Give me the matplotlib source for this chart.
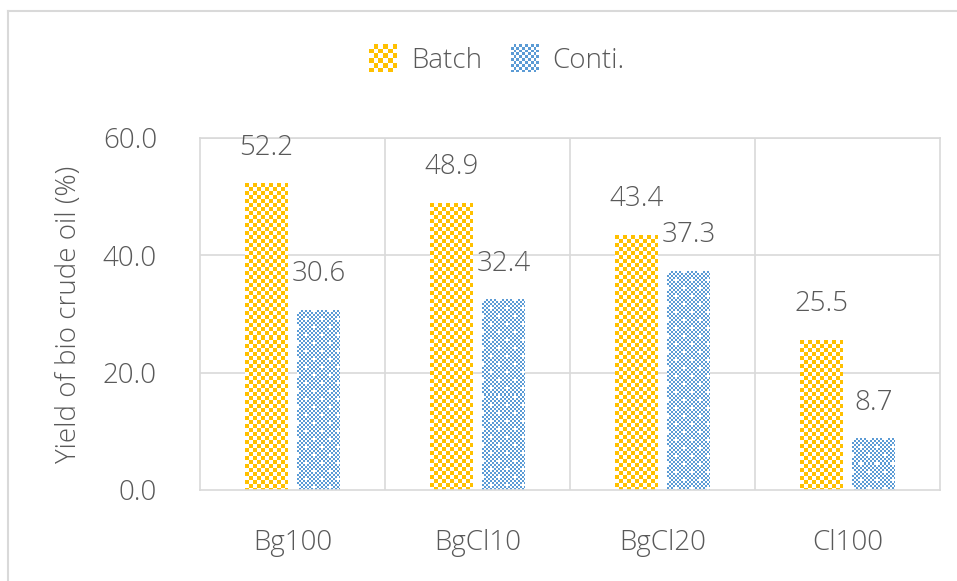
import numpy as np
import matplotlib
matplotlib.use("Agg")
import matplotlib.pyplot as plt
from matplotlib.patches import Rectangle
from matplotlib.lines import Line2D
from matplotlib.legend_handler import HandlerBase

categories = ["Bg100", "BgCl10", "BgCl20", "Cl100"]
batch = [52.2, 48.9, 43.4, 25.5]
conti = [30.6, 32.4, 37.3, 8.7]
series_names = ["Batch", "Conti."]
yticks = [0, 20, 40, 60]

GOLD = "#FFC000"
BLUE = "#5B9BD5"
TEXT = "#595959"
GRID = "#D9D9D9"

plt.rcParams["font.family"] = ["Open Sans", "DejaVu Sans"]
plt.rcParams["font.weight"] = 300
plt.rcParams["axes.labelweight"] = 300

fig = plt.figure(figsize=(9.57, 5.81), dpi=100)
ax = fig.add_axes([200 / 957, 1 - 490 / 581, 740 / 957, 352 / 581])
ax.set_xlim(-0.5, len(categories) - 0.5)
ax.set_ylim(0, 60)

x = np.arange(len(categories))
width = 0.23
offset = 0.14


def checker(h, w, cell, fg, extra_dots=False):
    rgb_fg = np.array(matplotlib.colors.to_rgb(fg))
    img = np.ones((h, w, 3))
    yy, xx = np.mgrid[0:h, 0:w]
    mask = ((yy // cell) + (xx // cell)) % 2 == 0
    img[mask] = rgb_fg
    if extra_dots:
        dots = ((yy % 8) < 2) & ((xx % 8) < 2) & (((yy // 8) + (xx // 8)) % 2 == 0)
        img[dots] = 1.0
    return img


def textured_bars(xs, vals, color, cell, dots):
    bars = ax.bar(xs, vals, width, color="none", edgecolor="none", zorder=2)
    fig.canvas.draw()
    for b in bars:
        x0, y0 = b.get_x(), b.get_y()
        x1, y1 = x0 + b.get_width(), y0 + b.get_height()
        (px0, py0), (px1, py1) = ax.transData.transform([(x0, y0), (x1, y1)])
        w = max(int(round(px1 - px0)), 1)
        h = max(int(round(py1 - py0)), 1)
        img = checker(h, w, cell, color, dots)
        ax.imshow(img, extent=(x0, x1, y0, y1), aspect="auto",
                  interpolation="nearest", zorder=2, origin="upper")
    return bars


textured_bars(x - offset, batch, GOLD, 4, False)
textured_bars(x + offset, conti, BLUE, 2, True)
ax.set_xlim(-0.5, len(categories) - 0.5)
ax.set_ylim(0, 60)

for xs, vals in ((x - offset, batch), (x + offset, conti)):
    for xi, v in zip(xs, vals):
        ax.annotate(f"{v:.1f}", (xi, v), xytext=(0, 26), textcoords="offset points",
                    ha="center", va="center", fontsize=20, color=TEXT, zorder=4)

# grid lines
for yv in yticks[1:]:
    ax.axhline(yv, color=GRID, lw=1.2, zorder=1)
for xv in np.arange(0.5, len(categories) - 0.5, 1):
    ax.axvline(xv, color=GRID, lw=1.2, zorder=1)
for s in ax.spines.values():
    s.set_color(GRID)
    s.set_linewidth(1.2)

ax.set_xticks(x)
ax.set_xticklabels(categories)
ax.set_yticks(yticks)
ax.set_yticklabels([f"{v:.1f}" for v in yticks])
ax.tick_params(axis="both", length=0, labelsize=20, labelcolor=TEXT)
ax.tick_params(axis="x", pad=28)
ax.tick_params(axis="y", pad=31)
ax.set_ylabel("Yield of bio crude oil (%)", fontsize=20, fontweight=300,
              color=TEXT, labelpad=14)


class CheckerHandler(HandlerBase):
    def __init__(self, color, cell, dots):
        super().__init__()
        self.color = color
        self.cell = cell
        self.dots = dots

    def create_artists(self, legend, orig_handle, xdescent, ydescent, width, height,
                       fontsize, trans):
        arts = []
        n = 6 if self.cell >= 4 else 10
        size = min(width, height)
        step = size / n
        x0 = -xdescent + (width - size) / 2
        y0 = -ydescent + (height - size) / 2
        arts.append(Rectangle((x0, y0), size, size, facecolor="white",
                              edgecolor="none", transform=trans))
        for i in range(n):
            for j in range(n):
                if (i + j) % 2 == 0:
                    arts.append(Rectangle((x0 + i * step, y0 + j * step), step, step,
                                          facecolor=self.color, edgecolor="none",
                                          transform=trans))
        return arts


h1 = Rectangle((0, 0), 1, 1)
h2 = Rectangle((0, 0), 1, 1)
fig.legend([h1, h2], series_names, loc="center", bbox_to_anchor=(0.518, 0.898),
           ncol=2, frameon=False, fontsize=20, labelcolor=TEXT,
           handler_map={h1: CheckerHandler(GOLD, 4, False),
                        h2: CheckerHandler(BLUE, 2, True)},
           handlelength=1.2, handleheight=1.2, handletextpad=0.4, columnspacing=0.95)

# outer chart frame
fig.add_artist(Line2D([8 / 957, 8 / 957], [0, 1 - 11 / 581], color=GRID, lw=1.5,
                      transform=fig.transFigure))
fig.add_artist(Line2D([8 / 957, 1], [1 - 11 / 581, 1 - 11 / 581], color=GRID, lw=1.5,
                      transform=fig.transFigure))

fig.savefig("out.png", dpi=100)
